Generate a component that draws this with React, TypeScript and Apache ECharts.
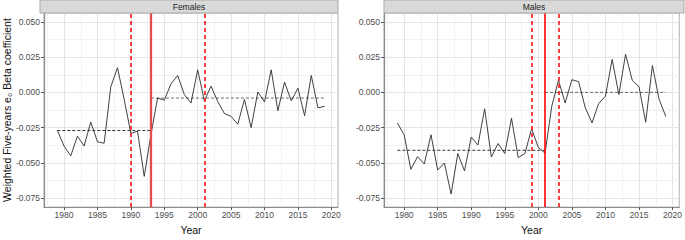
import React, { useEffect, useRef } from "react";
import * as echarts from "echarts";

// ---------- data ----------
const years = [
  1979, 1980, 1981, 1982, 1983, 1984, 1985, 1986, 1987, 1988,
  1989, 1990, 1991, 1992, 1993, 1994, 1995, 1996, 1997, 1998,
  1999, 2000, 2001, 2002, 2003, 2004, 2005, 2006, 2007, 2008,
  2009, 2010, 2011, 2012, 2013, 2014, 2015, 2016, 2017, 2018, 2019,
];

const femaleValues = [
  -0.027, -0.038, -0.045, -0.031, -0.038, -0.021, -0.035, -0.036, 0.004, 0.0175,
  -0.005, -0.029, -0.0275, -0.0595, -0.03, -0.004, -0.0055, 0.006, 0.012, -0.0015,
  -0.0075, 0.016, -0.006, 0.0045, -0.0065, -0.015, -0.017, -0.0225, -0.005, -0.025,
  0.0003, -0.0067, 0.016, -0.013, 0.0073, -0.006, 0.003, -0.0165, 0.012, -0.011, -0.0098,
];

const maleValues = [
  -0.0217, -0.03, -0.0545, -0.0455, -0.0507, -0.03, -0.055, -0.05, -0.072, -0.0433,
  -0.0556, -0.0317, -0.0373, -0.0116, -0.0458, -0.0362, -0.0433, -0.0183, -0.0462, -0.0433,
  -0.0257, -0.039, -0.043, -0.0098, 0.0085, -0.0075, 0.009, 0.0076, -0.0109, -0.0216,
  -0.0078, -0.0027, 0.0234, -0.0015, 0.027, 0.0085, 0.004, -0.0211, 0.019, -0.0049, -0.0171,
];

const femaleBounds = [1990, 2001]; // dashed red
const femaleBreak = 1993; // solid red
const femaleMeans = [-0.027, -0.004];

const maleBounds = [1999, 2003];
const maleBreak = 2001;
const maleMeans = [-0.041, 0.0];

const xTickValues = [1980, 1985, 1990, 1995, 2000, 2005, 2010, 2015, 2020];
const yTickValues = [-0.075, -0.05, -0.025, 0, 0.025, 0.05];

const panelTitles = ["Females", "Males"];

// ---------- styling ----------
const FONT = "'Liberation Sans', Arial, Helvetica, sans-serif";
const T = "rgba(0,0,0,0)";
const MAJOR = "#e4e4e4";
const MINOR = "#f1f1f1";
// x grid axis: ticks every 0.5 from 1977
const xGridColors = [T, MINOR, T, T, T, T, MAJOR, T, T, T];
// y grid axis: ticks every 0.00625 from -0.08125
const yGridColors = [T, MAJOR, T, MINOR];

const X_MIN = 1977;
const X_MAX = 2021;
const Y_MIN = -0.08125;
const Y_MAX = 0.05625;

const grids = [
  { left: 40, right: 347, top: 13, bottom: 22 },
  { left: 384, right: 4, top: 13, bottom: 22 },
];

function dataXAxis(gridIndex: number) {
  return {
    type: "value",
    gridIndex,
    min: X_MIN,
    max: X_MAX,
    axisLine: { show: true, onZero: false, lineStyle: { color: "#8c8c8c", width: 1.2 } },
    axisTick: { show: true, length: 3, customValues: xTickValues, lineStyle: { color: "#555" } },
    axisLabel: {
      customValues: xTickValues,
      formatter: (v: number) => String(Math.round(v)),
      color: "#4d4d4d",
      fontSize: 8.5,
      fontFamily: FONT,
      margin: 3,
    },
    splitLine: { show: false },
    name: "Year",
    nameLocation: "middle",
    nameGap: 13,
    nameTextStyle: { color: "#111", fontSize: 10.5, fontFamily: FONT },
  };
}

function gridXAxis(gridIndex: number) {
  return {
    type: "value",
    gridIndex,
    min: X_MIN,
    max: X_MAX,
    interval: 0.5,
    axisLine: { show: false },
    axisTick: { show: false },
    axisLabel: { show: false },
    splitLine: { show: true, lineStyle: { color: xGridColors, width: 1 } },
  };
}

function dataYAxis(gridIndex: number, withName: boolean) {
  return {
    type: "value",
    gridIndex,
    min: Y_MIN,
    max: Y_MAX,
    axisLine: { show: true, onZero: false, lineStyle: { color: "#8c8c8c", width: 1.2 } },
    axisTick: { show: true, length: 3, customValues: yTickValues, lineStyle: { color: "#555" } },
    axisLabel: {
      customValues: yTickValues,
      formatter: (v: number) => v.toFixed(3),
      color: "#4d4d4d",
      fontSize: 8.5,
      fontFamily: FONT,
      margin: 4,
    },
    splitLine: { show: false },
    name: withName ? "Weighted Five-years e\u2080 Beta coefficient" : "",
    nameLocation: "middle",
    nameGap: 28,
    nameRotate: 90,
    nameTextStyle: { color: "#111", fontSize: 10.5, fontFamily: FONT },
  };
}

function gridYAxis(gridIndex: number) {
  return {
    type: "value",
    gridIndex,
    min: Y_MIN,
    max: Y_MAX,
    interval: 0.00625,
    axisLine: { show: false },
    axisTick: { show: false },
    axisLabel: { show: false },
    splitLine: { show: true, lineStyle: { color: yGridColors, width: 1 } },
  };
}

function panelSeries(
  axisIndex: number,
  values: number[],
  bounds: number[],
  brk: number,
  means: number[],
  solidStyle: { color: string; width: number }
) {
  const first = years[0];
  const last = years[years.length - 1];
  return [
    {
      type: "line",
      xAxisIndex: axisIndex,
      yAxisIndex: axisIndex,
      data: [
        [first, means[0]],
        [brk, means[0]],
      ],
      symbol: "none",
      lineStyle: { color: "#1a1a1a", width: 0.9, type: [3, 2] },
      z: 3,
    },
    {
      type: "line",
      xAxisIndex: axisIndex,
      yAxisIndex: axisIndex,
      data: [
        [brk, means[1]],
        [last, means[1]],
      ],
      symbol: "none",
      lineStyle: { color: "#5a5a5a", width: 0.9, type: [3, 2] },
      z: 3,
    },
    {
      type: "line",
      xAxisIndex: axisIndex,
      yAxisIndex: axisIndex,
      data: years.map((y, i) => [y, values[i]]),
      symbol: "none",
      lineStyle: { color: "#2b2b2b", width: 0.9 },
      z: 4,
      markLine: {
        silent: true,
        symbol: "none",
        label: { show: false },
        animation: false,
        data: [
          ...bounds.map((b) => ({
            xAxis: b,
            lineStyle: { color: "#ff1f1f", width: 1.7, type: [4, 3] },
          })),
          { xAxis: brk, lineStyle: { color: solidStyle.color, width: solidStyle.width, type: "solid" } },
        ],
      },
    },
  ];
}

export default function App() {
  const ref = useRef<HTMLDivElement>(null);

  useEffect(() => {
    document.body.style.margin = "0";
    if (!ref.current) return;
    const chart = echarts.init(ref.current, undefined, { renderer: "svg" });

    const stripGraphics: any[] = [];
    const stripExtents = [
      [40, 338],
      [384, 684],
    ];
    stripExtents.forEach(([x0, x1], i) => {
      stripGraphics.push({
        type: "rect",
        shape: { x: x0, y: 0, width: x1 - x0, height: 13 },
        style: { fill: "#d9d9d9", stroke: "#ababab", lineWidth: 1 },
        z: 10,
      });
      stripGraphics.push({
        type: "text",
        x: (x0 + x1) / 2,
        y: 7,
        style: {
          text: panelTitles[i],
          fill: "#1a1a1a",
          fontSize: 8.5,
          fontFamily: FONT,
          align: "center",
          verticalAlign: "middle",
        },
        z: 11,
      });
    });

    chart.setOption({
      animation: false,
      backgroundColor: "#ffffff",
      grid: grids.map((g) => ({
        ...g,
        show: true,
        backgroundColor: "#ffffff",
        borderColor: "#b0b0b0",
        borderWidth: 1,
        containLabel: false,
      })),
      xAxis: [dataXAxis(0), dataXAxis(1), gridXAxis(0), gridXAxis(1)],
      yAxis: [dataYAxis(0, true), dataYAxis(1, false), gridYAxis(0), gridYAxis(1)],
      series: [
        ...panelSeries(0, femaleValues, femaleBounds, femaleBreak, femaleMeans, {
          color: "#e84a4c",
          width: 2.3,
        }),
        ...panelSeries(1, maleValues, maleBounds, maleBreak, maleMeans, {
          color: "#ff0000",
          width: 1.6,
        }),
      ],
      graphic: stripGraphics,
    });

    return () => {
      chart.dispose();
    };
  }, []);

  return (
    <div
      ref={ref}
      style={{ position: "absolute", left: 0, top: 0, width: 685, height: 240 }}
    />
  );
}
